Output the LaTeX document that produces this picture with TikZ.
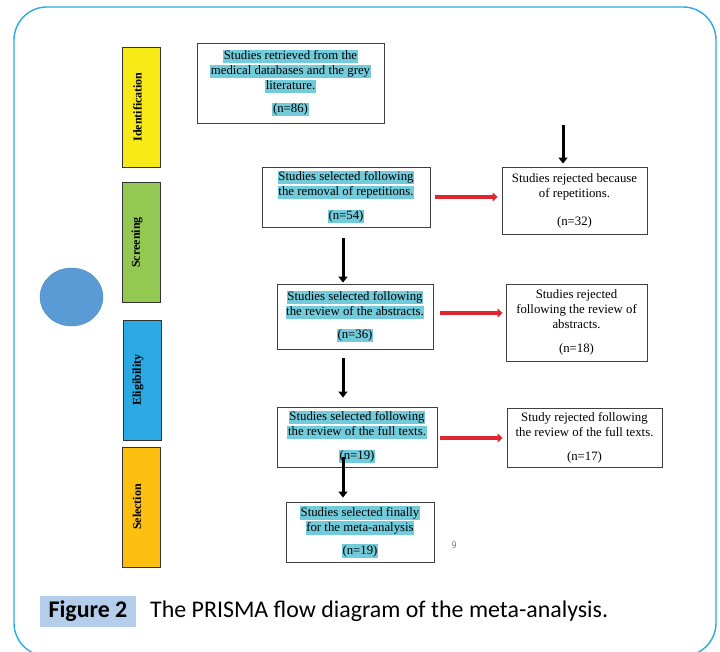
\documentclass[tikz,border=0pt]{standalone}
\usepackage{fontspec}
\setmainfont{Liberation Serif}
\newfontfamily\capfont{Carlito}
\usetikzlibrary{arrows.meta,shapes.geometric}
\definecolor{frameblue}{HTML}{2AABE3}
\definecolor{hlcyan}{HTML}{72CBDA}
\definecolor{idyellow}{HTML}{F7EA16}
\definecolor{scgreen}{HTML}{93C952}
\definecolor{elblue}{HTML}{2AA9E2}
\definecolor{seorange}{HTML}{FDC010}
\definecolor{ellblue}{HTML}{5B9BD5}
\definecolor{capblue}{HTML}{B3CDEA}
\definecolor{arrred}{HTML}{E0252C}
\newcommand{\hlt}[1]{{\setlength{\fboxsep}{0.6pt}\colorbox{hlcyan}{\rule{0pt}{9.6pt}\rule[-3pt]{0pt}{3pt}#1}}}
\begin{document}
\begin{tikzpicture}[x=1pt,y=-1pt,
  box/.style={draw=black!75, line width=0.9pt, fill=white, rectangle, inner sep=0pt, align=center, font=\fontsize{12.8}{15}\selectfont},
  phase/.style={draw=black!80, line width=0.9pt, rectangle, inner sep=0pt, minimum width=38pt, minimum height=120pt},
  plabel/.style={rotate=90, font=\fontsize{12}{13}\selectfont\bfseries, inner sep=0pt},
  blk/.style={line width=3pt, -{Triangle[length=6pt,width=9pt]}},
  redarr/.style={line width=4pt, draw=arrred, -{Triangle[length=5pt,width=9pt]}},
]
\useasboundingbox (0,0) rectangle (720,652);
\draw[frameblue, line width=1.4pt, rounded corners=33pt] (14,7) rectangle (716,656);

% phase boxes
\node[phase, fill=idyellow] (p1) at (141.5,107) {};
\node[phase, fill=scgreen] (p2) at (141,242.5) {};
\node[phase, fill=elblue] (p3) at (142,380) {};
\node[phase, fill=seorange] (p4) at (141,507) {};
\node[plabel] (l1) at ([xshift=-4pt]p1.center) {Identification};
\node[plabel] (l2) at ([xshift=-4pt]p2.center) {Screening};
\node[plabel] (l3) at ([xshift=-4pt]p3.center) {Eligibility};
\node[plabel] (l4) at ([xshift=-4pt]p4.center) {Selection};

% ellipse
\node[draw=ellblue!85!black, line width=0.4pt, fill=ellblue, ellipse, minimum width=63pt, minimum height=58pt, inner sep=0pt] (circ) at (71.5,297) {};

% main boxes
\node[box, minimum width=187pt, minimum height=80pt] (b1) at (290.5,83)
  {\hlt{Studies retrieved from  the}\\\hlt{medical databases and the grey}\\\hlt{literature.}\\[8pt]\hlt{(n=86)}};
\node[box, minimum width=168pt, minimum height=60pt] (b2) at (346,197)
  {\hlt{Studies selected following}\\\hlt{the removal of repetitions.}\\[9pt]\hlt{(n=54)}};
\node[box, minimum width=145pt, minimum height=67pt] (r2) at (574.5,200.5)
  {Studies rejected because\\of repetitions.\\[13pt](n=32)};
\node[box, minimum width=156pt, minimum height=65pt] (b3) at (355,316.5)
  {\hlt{Studies selected following}\\\hlt{the review of the abstracts.}\\[8pt]\hlt{(n=36)}};
\node[box, minimum width=141pt, minimum height=77pt] (r3) at (576.5,322.5)
  {Studies rejected\\following the review of\\abstracts.\\[9pt](n=18)};
\node[box, minimum width=160pt, minimum height=60pt] (b4) at (357,437)
  {\hlt{Studies selected following}\\\hlt{the review of the full texts.}\\[9pt]\hlt{(n=19)}};
\node[box, minimum width=155pt, minimum height=59pt] (r4) at (584.5,437.5)
  {Study rejected following\\the review of the full texts.\\[9pt](n=17)};
\node[box, minimum width=148pt, minimum height=60pt] (b5) at (360,532)
  {\hlt{Studies selected finally}\\\hlt{for the meta-analysis}\\[8pt]\hlt{(n=19)}};

\node[text=black!55, font=\sffamily\fontsize{10}{11}\selectfont] (pg) at (454,545) {9};

% black arrows (yshift is in page direction: positive = up)
\coordinate (topfree) at (563,125);
\draw[blk] (topfree) -- ([xshift=-11.5pt,yshift=3pt]r2.north);
\draw[blk] ([xshift=-3pt,yshift=-11pt]b2.south) -- ([xshift=-12pt,yshift=1pt]b3.north);
\draw[blk] ([xshift=-12pt,yshift=-9pt]b3.south) -- ([xshift=-14pt,yshift=9pt]b4.north);
\draw[blk] ([xshift=-14pt,yshift=10pt]b4.south) -- ([xshift=-17pt,yshift=4pt]b5.north);

% red arrows
\draw[redarr] ([xshift=5pt]b2.east) -- ([xshift=-4pt]b2.east -| r2.west);
\draw[redarr] ([xshift=7pt,yshift=3.5pt]b3.east) -- ([xshift=-3pt,yshift=3.5pt]b3.east -| r3.west);
\draw[redarr] ([xshift=3pt,yshift=-1pt]b4.east) -- ([xshift=-4pt,yshift=-1pt]b4.east -| r4.west);

% caption
\node[fill=capblue, minimum width=96pt, minimum height=31pt, inner sep=0pt, font=\capfont\bfseries\fontsize{23.9}{26}\selectfont] (fig) at (88,611.5) {Figure 2};
\node[anchor=west, inner sep=0pt, font=\capfont\fontsize{23.9}{26}\selectfont] (cap) at (150,611.5) {The PRISMA flow diagram of the meta-analysis.};
\end{tikzpicture}
\end{document}
